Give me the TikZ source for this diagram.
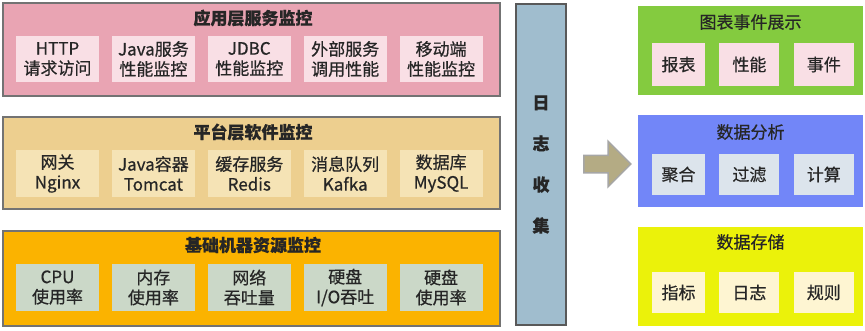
\documentclass[tikz,border=0pt]{standalone}
\usepackage{fontspec}
\newfontfamily\cjk{Noto Sans CJK SC}[FakeBold=0.6]
\usetikzlibrary{positioning, shapes.arrows}
\definecolor{apppink}{HTML}{E9A4B3}
\definecolor{appcell}{HTML}{F9DFE5}
\definecolor{plattan}{HTML}{EDCF8F}
\definecolor{platcell}{HTML}{F5E3B5}
\definecolor{basegold}{HTML}{FBB300}
\definecolor{basecell}{HTML}{CBD8C8}
\definecolor{barblue}{HTML}{A0BDCE}
\definecolor{showgreen}{HTML}{84CB3F}
\definecolor{anablue}{HTML}{7286F8}
\definecolor{anacell}{HTML}{DCE4EC}
\definecolor{storeyellow}{HTML}{EBF20A}
\definecolor{storecell}{HTML}{FEF5D2}
\definecolor{arrkhaki}{HTML}{B4AB84}

\begin{document}
\begin{tikzpicture}[x=1pt, y=-1pt, font=\cjk\fontsize{17}{20}\selectfont, text=black!85, node distance=12.5pt,
    layer/.style={draw=black!55, line width=2pt, minimum width=497pt, inner sep=0pt},
    item/.style={minimum width=83pt, minimum height=46pt, inner sep=0pt, align=center},
    panel/.style={minimum width=225pt, inner sep=0pt},
    cell/.style={minimum height=41pt, inner sep=0pt, align=center}]
    \useasboundingbox (0,0) rectangle (865,330);

    % left: monitoring layers
    \node[layer, fill=apppink, minimum height=93pt] (app) at (251.5,49.5) {};
    \node[font=\cjk\bfseries\fontsize{17}{20}\selectfont] (appt) at (253,18) {应用层服务监控};
    \node[item, fill=appcell] (app1) at (57.5,59) {HTTP\\请求访问};
    \node[item, fill=appcell, right=of app1] (app2) {Java服务\\性能监控};
    \node[item, fill=appcell, right=of app2] (app3) {JDBC\\性能监控};
    \node[item, fill=appcell, right=of app3] (app4) {外部服务\\调用性能};
    \node[item, fill=appcell, right=of app4] (app5) {移动端\\性能监控};

    \node[layer, fill=plattan, minimum height=92pt] (plat) at (251.5,163) {};
    \node[font=\cjk\bfseries\fontsize{17}{20}\selectfont] (platt) at (253,132) {平台层软件监控};
    \node[item, fill=platcell, minimum height=47pt] (plat1) at (57.5,173.5) {网关\\Nginx};
    \node[item, fill=platcell, minimum height=47pt, right=of plat1] (plat2) {Java容器\\Tomcat};
    \node[item, fill=platcell, minimum height=47pt, right=of plat2] (plat3) {缓存服务\\Redis};
    \node[item, fill=platcell, minimum height=47pt, right=of plat3] (plat4) {消息队列\\Kafka};
    \node[item, fill=platcell, minimum height=47pt, right=of plat4] (plat5) {数据库\\MySQL};

    \node[layer, fill=basegold, minimum height=95pt] (base) at (251.5,278.5) {};
    \node[font=\cjk\bfseries\fontsize{17}{20}\selectfont] (baset) at (253,245) {基础机器资源监控};
    \node[item, fill=basecell, minimum height=47pt] (base1) at (57.5,287.5) {CPU\\使用率};
    \node[item, fill=basecell, minimum height=47pt, right=of base1] (base2) {内存\\使用率};
    \node[item, fill=basecell, minimum height=47pt, right=of base2] (base3) {网络\\吞吐量};
    \node[item, fill=basecell, minimum height=47pt, right=of base3] (base4) {硬盘\\I/O吞吐};
    \node[item, fill=basecell, minimum height=47pt, right=of base4] (base5) {硬盘\\使用率};

    % middle: log collection and arrow
    \node[draw=black!65, line width=2.5pt, fill=barblue, minimum width=50pt, minimum height=321pt,
      align=center, font=\cjk\bfseries\fontsize{17}{41}\selectfont] (bar) at (541,164.5) {日\\志\\收\\集};
    \node[single arrow, draw=black!35, line width=1.5pt, fill=arrkhaki, inner sep=8pt,
      single arrow head extend=14pt, minimum height=47pt] (arr) at (603,164) {};

    % right: display, analysis, storage
    \node[panel, fill=showgreen, minimum height=89pt] (show) at (750.5,50.5) {};
    \node (showt) at (750.5,22) {图表事件展示};
    \node[cell, fill=appcell, minimum width=53pt, minimum height=43pt] (show1) at (678.5,64.5) {报表};
    \node[cell, fill=appcell, minimum width=60pt, minimum height=43pt, right=14pt of show1] (show2) {性能};
    \node[cell, fill=appcell, minimum width=60pt, minimum height=43pt, right=14pt of show2] (show3) {事件};

    \node[panel, fill=anablue, minimum height=92pt] (ana) at (750.5,161) {};
    \node (anat) at (750.5,132) {数据分析};
    \node[cell, fill=anacell, minimum width=53pt] (ana1) at (678.5,174.5) {聚合};
    \node[cell, fill=anacell, minimum width=60pt, right=14pt of ana1] (ana2) {过滤};
    \node[cell, fill=anacell, minimum width=60pt, right=14pt of ana2] (ana3) {计算};

    \node[panel, fill=storeyellow, minimum height=99pt] (store) at (750.5,276.5) {};
    \node (storet) at (750.5,242) {数据存储};
    \node[cell, fill=storecell, minimum width=53pt] (store1) at (678.5,292.5) {指标};
    \node[cell, fill=storecell, minimum width=60pt, right=14pt of store1] (store2) {日志};
    \node[cell, fill=storecell, minimum width=60pt, right=14pt of store2] (store3) {规则};
\end{tikzpicture}
\end{document}
